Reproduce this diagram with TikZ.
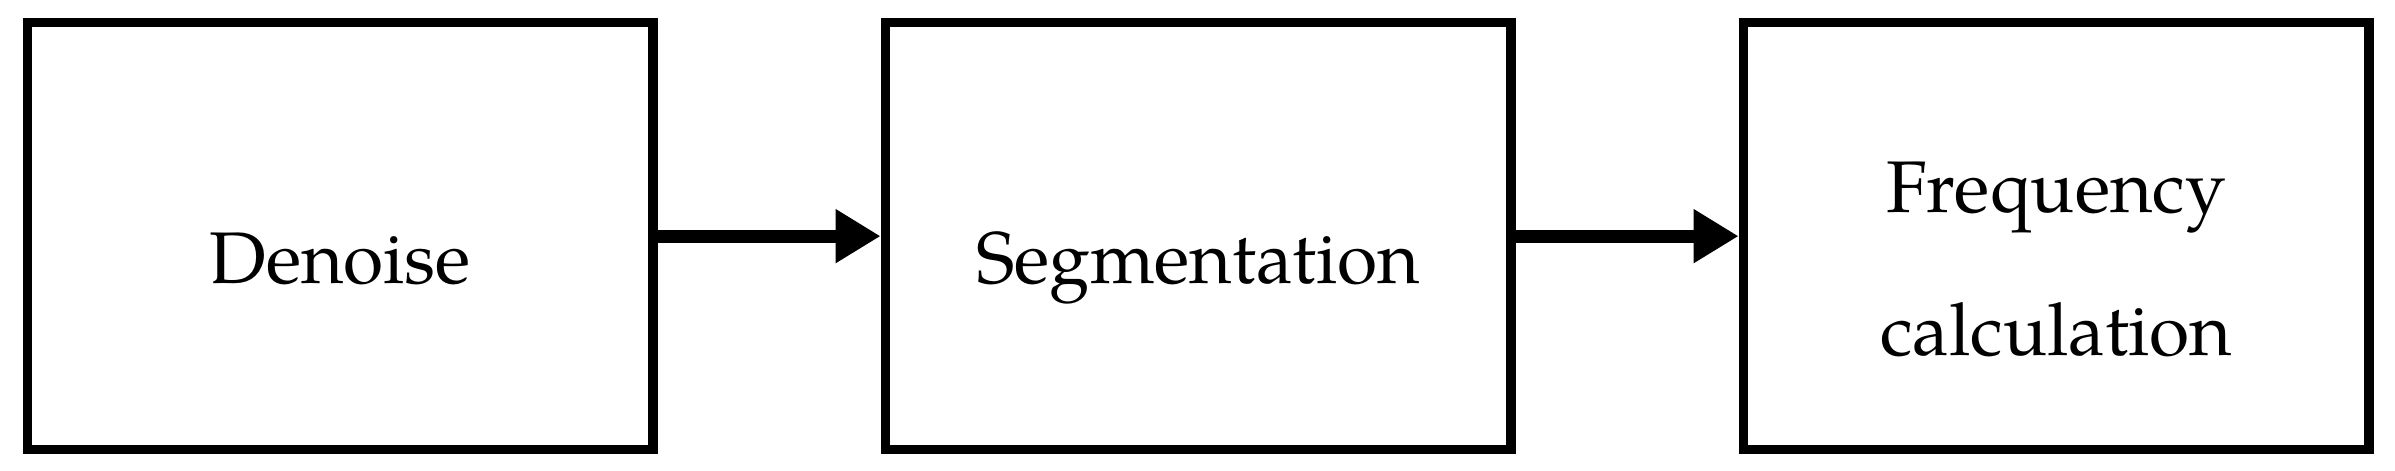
\documentclass[tikz,border=0pt]{standalone}
\usepackage{fontspec}
\setmainfont{TeX Gyre Pagella}
\usepackage{tikz}
\usetikzlibrary{positioning,arrows.meta}

\begin{document}
\begin{tikzpicture}[x=0.01cm,y=-0.01cm,
  stepbox/.style={draw,line width=0.095cm,minimum width=6.255cm,minimum height=4.267cm,inner sep=0pt},
  steptext/.style={anchor=base,align=center,inner sep=0pt,font=\fontsize{20.8pt}{40.4pt}\selectfont},
  flow/.style={line width=0.13cm,-{Triangle[length=0.45cm,width=0.51cm]}},
  node distance=2.225cm]
\useasboundingbox (0,0) rectangle (2395,471);
\node[stepbox] (den) at (340.25,236.15) {};
\node[stepbox,right=of den] (seg) {};
\node[stepbox,right=of seg] (freq) {};
% labels
\node[steptext] (den-txt) at ([yshift=-0.4685cm]den.center) {Denoise};
\node[steptext] (seg-txt) at ([yshift=-0.4685cm]seg.center) {Segmentation};
\node[steptext] (freq-txt) at ([yshift=-1.1885cm]freq.center) {Frequency\\calculation};
\draw[flow] (den.east) -- (seg.west);
\draw[flow] (seg.east) -- (freq.west);
\end{tikzpicture}
\end{document}
